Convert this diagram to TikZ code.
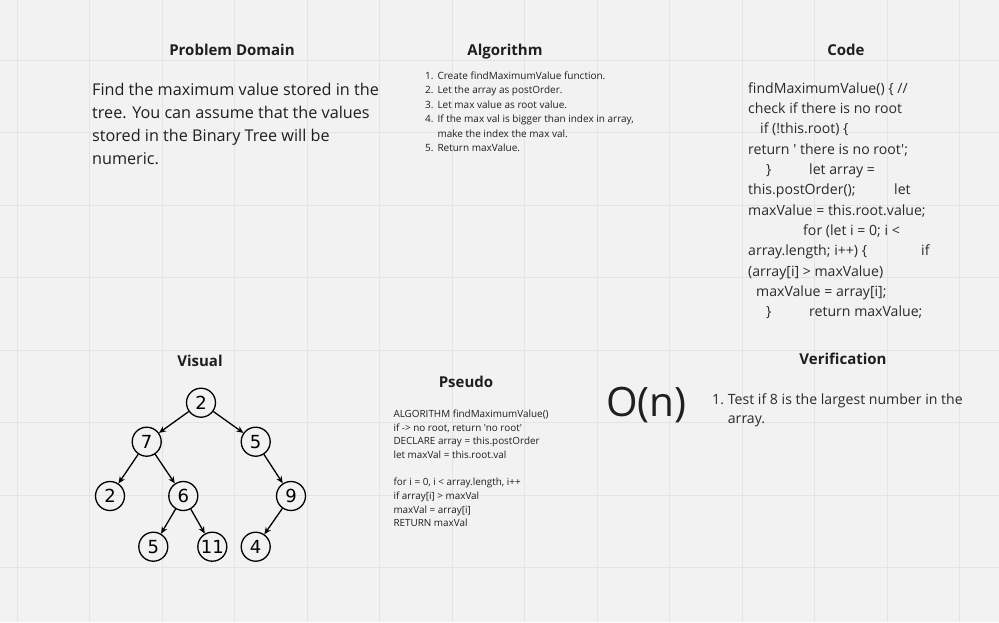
\documentclass[tikz,border=0pt]{standalone}
\usepackage{fontspec}
\setmainfont{Open Sans}[Ligatures=TeXOff]
\newfontfamily\treefont{DejaVu Sans}
\usetikzlibrary{arrows.meta}
\definecolor{bgc}{HTML}{F2F2F2}
\definecolor{gridc}{HTML}{E4E4E4}
\definecolor{txt}{HTML}{1F1F1F}
\definecolor{codec}{HTML}{2A2A2A}
\tikzset{
  title/.style={anchor=base,font=\fontsize{15}{18}\selectfont\bfseries,text=txt,inner sep=0pt},
  body/.style={anchor=base west,font=\fontsize{16.2}{20}\selectfont,text=txt,inner sep=0pt},
  codet/.style={anchor=base west,font=\fontsize{14.1}{17}\selectfont,text=codec,inner sep=0pt},
  algt/.style={anchor=base west,font=\fontsize{10}{11}\selectfont,text=txt,inner sep=0pt},
  pseut/.style={anchor=base west,font=\fontsize{9.9}{11}\selectfont,text=txt,inner sep=0pt},
  bign/.style={anchor=base west,font=\fontsize{40.5}{45}\selectfont,text=txt,inner sep=0pt},
  tnode/.style={circle,draw=black,line width=1.3pt,minimum size=29pt,inner sep=0pt,font=\treefont\fontsize{18}{18}\selectfont},
  tedge/.style={line width=1.3pt,-{Stealth[length=7pt,width=6pt]}},
  gridline/.style={draw=gridc,line width=1pt},
}
\begin{document}
\begin{tikzpicture}[x=1pt,y=-1pt]
\fill[bgc] (0,0) rectangle (999,622);
\useasboundingbox (0,0) rectangle (999,622);
% grid
\foreach \k in {0,...,13} {
  \draw[gridline] ({17+72.5*\k},0) -- ({17+72.5*\k},622);
}
\foreach \k in {1,...,8} {
  \draw[gridline] (0,{-12.5+72.5*\k}) -- (999,{-12.5+72.5*\k});
}
% titles
\node[title] (tpd) at (232,55.7) {Problem Domain};
\node[title] (talg) at (505,55.7) {Algorithm};
\node[title] (tcode) at (846,55.7) {Code};
\node[title] (tvis) at (200,366) {Visual};
\node[title] (tpseu) at (466,387.7) {Pseudo};
\node[title] (tver) at (843,364) {Verification};
% problem domain
\node[body] (pd1) at (92,95) {Find the maximum value stored in the};
\node[body] (pd2) at (92,118.3) {tree. You can assume that the values};
\node[body] (pd3) at (92,141.6) {stored in the Binary Tree will be};
\node[body] (pd4) at (92,164.9) {numeric.};
% algorithm
\node[algt] (an1) at (425,79.3) {1.};
\node[algt] (a1) at (437.3,79.3) {Create findMaximumValue function.};
\node[algt] (an2) at (425,93.8) {2.};
\node[algt] (a2) at (437.3,93.8) {Let the array as postOrder.};
\node[algt] (an3) at (425,108.3) {3.};
\node[algt] (a3) at (437.3,108.3) {Let max value as root value.};
\node[algt] (an4) at (425,122.8) {4.};
\node[algt] (a4) at (437.3,122.8) {If the max val is bigger than index in array,};
\node[algt] (a4b) at (437.3,137.3) {make the index the max val.};
\node[algt] (an5) at (425,151.8) {5.};
\node[algt] (a5) at (437.3,151.8) {Return maxValue.};
% code
\node[codet] (c1) at (748,93.3) {findMaximumValue() \{ //};
\node[codet] (c2) at (748,113.6) {check if there is no root};
\node[codet] (c3) at (760,133.9) {if (!this.root) \{};
\node[codet] (c4) at (748,154.2) {return ' there is no root';};
\node[codet] (c5a) at (766,174.5) {\}};
\node[codet] (c5b) at (809,174.5) {let array =};
\node[codet] (c6a) at (748,194.8) {this.postOrder();};
\node[codet] (c6b) at (894,194.8) {let};
\node[codet] (c7) at (748,215.1) {maxValue = this.root.value;};
\node[codet] (c8) at (803,235.4) {for (let i = 0; i <};
\node[codet] (c9a) at (748,255.7) {array.length; i++) \{};
\node[codet] (c9b) at (921,255.7) {if};
\node[codet] (c10) at (748,276) {(array[i] > maxValue)};
\node[codet] (c11) at (756,296.3) {maxValue = array[i];};
\node[codet] (c12a) at (766,316.6) {\}};
\node[codet] (c12b) at (809,316.6) {return maxValue;};
% pseudo
\node[pseut] (p1) at (393.3,417.3) {ALGORITHM findMaximumValue()};
\node[pseut] (p2) at (393.3,431) {if -> no root, return 'no root'};
\node[pseut] (p3) at (393.3,444.7) {DECLARE array = this.postOrder};
\node[pseut] (p4) at (393.3,458.4) {let maxVal = this.root.val};
\node[pseut] (p5) at (393.3,485.8) {for i = 0, i < array.length, i++};
\node[pseut] (p6) at (393.3,499.5) {if array[i] > maxVal};
\node[pseut] (p7) at (393.3,513.2) {maxVal = array[i]};
\node[pseut] (p8) at (393.3,526.9) {RETURN maxVal};
% big O
\node[bign] (bo) at (606,416) {O(n)};
% verification
\node[codet] (vn1) at (712,404) {1.};
\node[codet] (v1) at (727.7,404) {Test if 8 is the largest number in the};
\node[codet] (v1b) at (727.7,423) {array.};
% tree
\node[tnode] (r) at (201,402.7) {2};
\node[tnode] (n7) at (146.7,441.7) {7};
\node[tnode] (n5) at (255.7,441.7) {5};
\node[tnode] (n2) at (110,496) {2};
\node[tnode] (n6) at (183.3,496) {6};
\node[tnode] (n9) at (291,496) {9};
\node[tnode] (n5b) at (153.3,546.7) {5};
\node[tnode] (n11) at (212.3,546.7) {11};
\node[tnode] (n4) at (255.7,546.7) {4};
\draw[tedge] (r) -- (n7);
\draw[tedge] (r) -- (n5);
\draw[tedge] (n7) -- (n2);
\draw[tedge] (n7) -- (n6);
\draw[tedge] (n5) -- (n9);
\draw[tedge] (n6) -- (n5b);
\draw[tedge] (n6) -- (n11);
\draw[tedge] (n9) -- (n4);
\end{tikzpicture}
\end{document}
